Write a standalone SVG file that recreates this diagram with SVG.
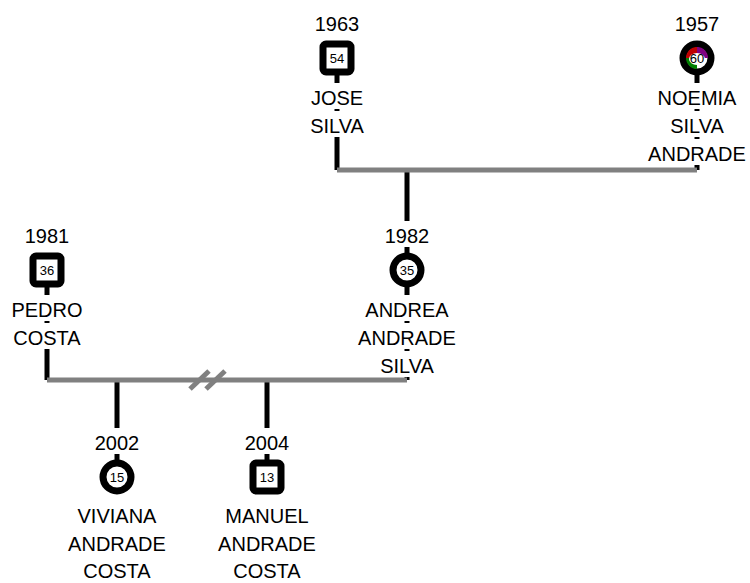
<svg xmlns="http://www.w3.org/2000/svg" width="750" height="583" viewBox="0 0 750 583">
<style>
.t{font-family:"Liberation Sans",Arial,sans-serif;font-size:20px;fill:#000;text-anchor:middle}
.n{font-family:"Liberation Sans",Arial,sans-serif;font-size:13px;fill:#000;text-anchor:middle}
.bl{stroke:#000;stroke-width:5;fill:none}
.gr{stroke:#808080;stroke-width:5;fill:none}
.sq{fill:#fff;stroke:#000;stroke-width:7}
.ci{fill:#fff;stroke:#000;stroke-width:7}
.cv{fill:#fff}
</style>
<rect width="750" height="583" fill="#fff"/>
<g id="connectors">
<line class="bl" x1="337" y1="58" x2="337" y2="170"/>
<line class="bl" x1="697" y1="58" x2="697" y2="170"/>
<line class="bl" x1="407" y1="170" x2="407" y2="380"/>
<line class="bl" x1="47" y1="270" x2="47" y2="380"/>
<line class="bl" x1="117" y1="380" x2="117" y2="477"/>
<line class="bl" x1="267" y1="380" x2="267" y2="477"/>
<line class="gr" x1="337" y1="170" x2="697" y2="170"/>
<line class="gr" x1="47" y1="380" x2="407" y2="380"/>
<line class="gr" x1="190" y1="389" x2="209" y2="371"/>
<line class="gr" x1="206" y1="389" x2="225" y2="371"/>
</g>
<g id="jose">
<rect class="cv" x="331" y="83" width="12" height="26"/>
<rect class="cv" x="331" y="111" width="12" height="26"/>
<text class="t" x="337" y="31">1963</text>
<rect class="sq" x="323" y="44" width="28" height="28" rx="3"/>
<text class="n" x="337" y="63">54</text>
<text class="t" x="337" y="105">JOSE</text>
<text class="t" x="337" y="133">SILVA</text>
</g>
<g id="noemia">
<rect class="cv" x="691" y="83" width="12" height="26"/>
<rect class="cv" x="691" y="111" width="12" height="26"/>
<rect class="cv" x="691" y="139" width="12" height="26"/>
<text class="t" x="697" y="31">1957</text>
<circle class="ci" cx="697" cy="58" r="14"/>
<path d="M697 58 L686 58 A11 11 0 0 1 697 47 Z" fill="#c00000"/>
<path d="M697 58 L697 47 A11 11 0 0 1 708 58 Z" fill="#800080"/>
<path d="M697 58 L697 69 A11 11 0 0 1 686 58 Z" fill="#008000"/>
<ellipse cx="697" cy="59" rx="8" ry="6" fill="#fff"/>
<text class="n" x="697" y="63">60</text>
<text class="t" x="697" y="105">NOEMIA</text>
<text class="t" x="697" y="133">SILVA</text>
<text class="t" x="697" y="161">ANDRADE</text>
</g>
<g id="pedro">
<rect class="cv" x="41" y="295" width="12" height="26"/>
<rect class="cv" x="41" y="323" width="12" height="26"/>
<text class="t" x="47" y="243">1981</text>
<rect class="sq" x="33" y="256" width="28" height="28" rx="3"/>
<text class="n" x="47" y="275">36</text>
<text class="t" x="47" y="317">PEDRO</text>
<text class="t" x="47" y="345">COSTA</text>
</g>
<g id="andrea">
<rect class="cv" x="401" y="221" width="12" height="26"/>
<rect class="cv" x="401" y="295" width="12" height="26"/>
<rect class="cv" x="401" y="323" width="12" height="26"/>
<rect class="cv" x="401" y="351" width="12" height="26"/>
<text class="t" x="407" y="243">1982</text>
<circle class="ci" cx="407" cy="270" r="14"/>
<text class="n" x="407" y="275">35</text>
<text class="t" x="407" y="317">ANDREA</text>
<text class="t" x="407" y="345">ANDRADE</text>
<text class="t" x="407" y="373">SILVA</text>
</g>
<g id="viviana">
<rect class="cv" x="111" y="428" width="12" height="26"/>
<text class="t" x="117" y="450">2002</text>
<circle class="ci" cx="117" cy="477" r="14"/>
<text class="n" x="117" y="482">15</text>
<text class="t" x="117" y="523">VIVIANA</text>
<text class="t" x="117" y="551">ANDRADE</text>
<text class="t" x="117" y="578">COSTA</text>
</g>
<g id="manuel">
<rect class="cv" x="261" y="428" width="12" height="26"/>
<text class="t" x="267" y="450">2004</text>
<rect class="sq" x="253" y="463" width="28" height="28" rx="3"/>
<text class="n" x="267" y="482">13</text>
<text class="t" x="267" y="523">MANUEL</text>
<text class="t" x="267" y="551">ANDRADE</text>
<text class="t" x="267" y="578">COSTA</text>
</g>
</svg>
